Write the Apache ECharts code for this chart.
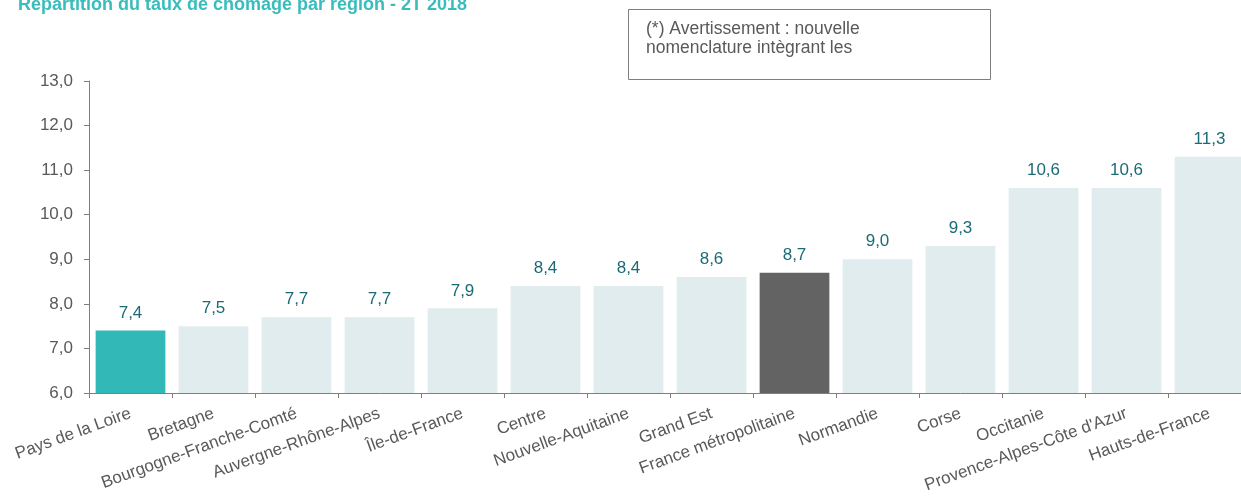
<!DOCTYPE html>
<html>
<head>
<meta charset="utf-8">
<script src="https://cdn.jsdelivr.net/npm/echarts@6/dist/echarts.min.js"></script>
<style>
html, body { margin: 0; padding: 0; background: #fff; overflow: hidden; }
#container { width: 1251px; height: 502px; }
</style>
</head>
<body>
<div id="container"></div>
<script>
var regions = ['Pays de la Loire', 'Bretagne', 'Bourgogne-Franche-Comté', 'Auvergne-Rhône-Alpes',
    'Île-de-France', 'Centre', 'Nouvelle-Aquitaine', 'Grand Est', 'France métropolitaine',
    'Normandie', 'Corse', 'Occitanie', "Provence-Alpes-Côte d'Azur", 'Hauts-de-France'];
var taux = [7.4, 7.5, 7.7, 7.7, 7.9, 8.4, 8.4, 8.6, 8.7, 9.0, 9.3, 10.6, 10.6, 11.3];
var highlight = 'Pays de la Loire';
var national = 'France métropolitaine';

function fr(v) { return Number(v).toFixed(1).replace('.', ','); }

var dom = document.getElementById('container');
var myChart = echarts.init(dom);

var barData = taux.map(function (v, i) {
    var c = '#e0ecee';
    if (regions[i] === highlight) c = '#33b8b8';
    if (regions[i] === national) c = '#636363';
    return { value: v, itemStyle: { color: c } };
});

var option = {
    animation: false,
    title: {
        text: 'Répartition du taux de chômage par région - 2T 2018',
        left: 13,
        top: -9,
        textStyle: { fontFamily: 'Liberation Sans', fontSize: 18, fontWeight: 'bold', color: '#38bcbc' }
    },
    graphic: [
        {
            type: 'rect',
            shape: { x: 628.5, y: 9.5, width: 362, height: 70 },
            style: { fill: '#fff', stroke: '#7f7f7f', lineWidth: 1 }
        },
        {
            type: 'text',
            x: 646, y: 20,
            style: {
                text: "(*) Avertissement : nouvelle\nnomenclature intègrant les",
                font: '17.5px "Liberation Sans"',
                lineHeight: 19,
                fill: '#595959'
            }
        }
    ],
    grid: { left: 89, top: 81, right: 0, height: 312, containLabel: false },
    xAxis: {
        type: 'category',
        data: regions,
        axisLine: { lineStyle: { color: '#7f7f7f', width: 1 } },
        axisTick: { show: true, alignWithLabel: false, length: 5, lineStyle: { color: '#7f7f7f' } },
        axisLabel: {
            rotate: 20, interval: 0, margin: 20,
            fontFamily: 'Liberation Sans', fontSize: 17, color: '#595959'
        }
    },
    yAxis: {
        type: 'value',
        min: 6, max: 13, interval: 1,
        axisLine: { show: true, lineStyle: { color: '#7f7f7f', width: 1 } },
        axisTick: { show: true, length: 5, lineStyle: { color: '#7f7f7f' } },
        splitLine: { show: false },
        axisLabel: {
            formatter: fr, margin: 16,
            fontFamily: 'Liberation Sans', fontSize: 17, color: '#595959'
        }
    },
    series: [{
        type: 'bar',
        data: barData,
        barCategoryGap: '16%',
        label: {
            show: true, position: 'top', distance: 9,
            formatter: function (p) { return fr(p.value); },
            fontFamily: 'Liberation Sans', fontSize: 17, color: '#1b6b75'
        }
    }]
};
myChart.setOption(option, true);
</script>
</body>
</html>
